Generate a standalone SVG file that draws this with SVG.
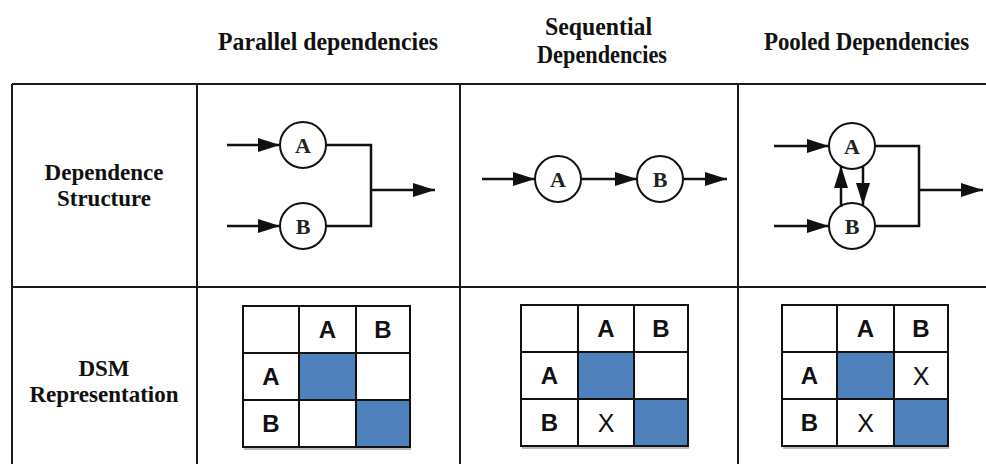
<svg xmlns="http://www.w3.org/2000/svg" width="986" height="464" viewBox="0 0 986 464">
<defs>
<marker id="ah" markerUnits="userSpaceOnUse" markerWidth="23" markerHeight="14" refX="22" refY="7" orient="auto">
<path d="M0,0 L22,7 L0,14 z" fill="#111"/>
</marker>
<style>
.grid{stroke:#1a1a1a;stroke-width:2;fill:none}
.head{font-family:"Liberation Serif",serif;font-weight:bold;font-size:26px;fill:#111;text-anchor:middle}
.row{font-family:"Liberation Serif",serif;font-weight:bold;font-size:23px;fill:#111;text-anchor:middle}
.node circle{fill:#fff;stroke:#111;stroke-width:2}
.node text{font-family:"Liberation Serif",serif;font-weight:bold;font-size:22px;fill:#222;text-anchor:middle}
.conn{stroke:#111;stroke-width:2.5;fill:none}
.arr{stroke:#111;stroke-width:2.5;fill:none;marker-end:url(#ah)}
.cell{fill:#fff;stroke:#111;stroke-width:2}
.blue{fill:#4f81bd;stroke:#111;stroke-width:2}
.lbl{font-family:"Liberation Sans",sans-serif;font-weight:bold;font-size:24px;fill:#111;text-anchor:middle}
.x{font-family:"Liberation Sans",sans-serif;font-size:25px;fill:#111;text-anchor:middle}
.shadow{stroke:#bbb;stroke-width:2}
</style>
</defs>
<rect width="986" height="464" fill="#fff"/>

<g id="headers">
<text class="head" x="328" y="50" textLength="220" lengthAdjust="spacingAndGlyphs">Parallel  dependencies</text>
<text class="head" x="598.5" y="35" textLength="107" lengthAdjust="spacingAndGlyphs">Sequential</text>
<text class="head" x="602" y="63" textLength="130" lengthAdjust="spacingAndGlyphs">Dependencies</text>
<g transform="translate(866.5,50) scale(0.88,1)"><text class="head" x="0" y="0">Pooled Dependencies</text></g>
</g>

<g id="table">
<line class="grid" x1="12" y1="84" x2="986" y2="84"/>
<line class="grid" x1="12" y1="287" x2="986" y2="287"/>
<line class="grid" x1="12" y1="84" x2="12" y2="464"/>
<line class="grid" x1="197" y1="84" x2="197" y2="464"/>
<line class="grid" x1="460" y1="84" x2="460" y2="464"/>
<line class="grid" x1="738" y1="84" x2="738" y2="464"/>
</g>

<g id="row-labels">
<text class="row" x="104" y="180">Dependence</text>
<text class="row" x="104" y="206">Structure</text>
<text class="row" x="104" y="376">DSM</text>
<text class="row" x="104" y="402">Representation</text>
</g>

<!-- Parallel -->
<g id="par-A" class="node"><circle cx="303" cy="145" r="23"/><text x="303" y="153">A</text></g>
<g id="par-B" class="node"><circle cx="303" cy="226" r="23"/><text x="303" y="234">B</text></g>
<!-- Sequential -->
<g id="seq-A" class="node"><circle cx="558" cy="179" r="23"/><text x="558" y="187">A</text></g>
<g id="seq-B" class="node"><circle cx="660" cy="179" r="23"/><text x="660" y="187">B</text></g>
<!-- Pooled -->
<g id="pool-A" class="node"><circle cx="852" cy="146" r="23"/><text x="852" y="154">A</text></g>
<g id="pool-B" class="node"><circle cx="852" cy="226" r="23"/><text x="852" y="234">B</text></g>

<g id="connectors">
<line class="arr" x1="227" y1="145" x2="280" y2="145"/>
<line class="arr" x1="227" y1="226" x2="280" y2="226"/>
<polyline class="conn" points="326,145 371,145 371,226 326,226"/>
<line class="arr" x1="371" y1="190" x2="435" y2="190"/>

<line class="arr" x1="482" y1="179" x2="535" y2="179"/>
<line class="arr" x1="581" y1="179" x2="637" y2="179"/>
<line class="arr" x1="683" y1="179" x2="727" y2="179"/>

<line class="arr" x1="774" y1="146" x2="829" y2="146"/>
<line class="arr" x1="774" y1="226" x2="829" y2="226"/>
<polyline class="conn" points="875,146 919,146 919,226 875,226"/>
<line class="arr" x1="919" y1="190" x2="983" y2="190"/>
<line class="arr" x1="841" y1="207" x2="841" y2="166"/>
<line class="arr" x1="863" y1="166" x2="863" y2="205"/>
</g>

<!-- DSM Parallel -->
<g id="dsm-par">
<line class="shadow" x1="244" y1="449" x2="411" y2="449"/>
<rect class="cell" x="243" y="306" width="56" height="47"/>
<rect class="cell" x="299" y="306" width="57" height="47"/>
<rect class="cell" x="356" y="306" width="54" height="47"/>
<rect class="cell" x="243" y="353" width="56" height="47"/>
<rect class="blue" x="299" y="353" width="57" height="47"/>
<rect class="cell" x="356" y="353" width="54" height="47"/>
<rect class="cell" x="243" y="400" width="56" height="47"/>
<rect class="cell" x="299" y="400" width="57" height="47"/>
<rect class="blue" x="356" y="400" width="54" height="47"/>
<text class="lbl" x="327.5" y="338">A</text>
<text class="lbl" x="383" y="338">B</text>
<text class="lbl" x="271" y="385">A</text>
<text class="lbl" x="271" y="432">B</text>
</g>

<!-- DSM Sequential -->
<g id="dsm-seq">
<line class="shadow" x1="522" y1="448" x2="689" y2="448"/>
<rect class="cell" x="521" y="305" width="57" height="47"/>
<rect class="cell" x="578" y="305" width="56" height="47"/>
<rect class="cell" x="634" y="305" width="54" height="47"/>
<rect class="cell" x="521" y="352" width="57" height="47"/>
<rect class="blue" x="578" y="352" width="56" height="47"/>
<rect class="cell" x="634" y="352" width="54" height="47"/>
<rect class="cell" x="521" y="399" width="57" height="47"/>
<rect class="cell" x="578" y="399" width="56" height="47"/>
<rect class="blue" x="634" y="399" width="54" height="47"/>
<text class="lbl" x="606" y="337">A</text>
<text class="lbl" x="661" y="337">B</text>
<text class="lbl" x="549.5" y="384">A</text>
<text class="lbl" x="549.5" y="431">B</text>
<text class="x" x="606" y="432">X</text>
</g>

<!-- DSM Pooled -->
<g id="dsm-pool">
<line class="shadow" x1="783" y1="448" x2="949" y2="448"/>
<rect class="cell" x="782" y="305" width="55" height="47"/>
<rect class="cell" x="837" y="305" width="57" height="47"/>
<rect class="cell" x="894" y="305" width="54" height="47"/>
<rect class="cell" x="782" y="352" width="55" height="47"/>
<rect class="blue" x="837" y="352" width="57" height="47"/>
<rect class="cell" x="894" y="352" width="54" height="47"/>
<rect class="cell" x="782" y="399" width="55" height="47"/>
<rect class="cell" x="837" y="399" width="57" height="47"/>
<rect class="blue" x="894" y="399" width="54" height="47"/>
<text class="lbl" x="865.5" y="337">A</text>
<text class="lbl" x="921" y="337">B</text>
<text class="lbl" x="809.5" y="384">A</text>
<text class="lbl" x="809.5" y="431">B</text>
<text class="x" x="921" y="385">X</text>
<text class="x" x="865.5" y="432">X</text>
</g>
</svg>
